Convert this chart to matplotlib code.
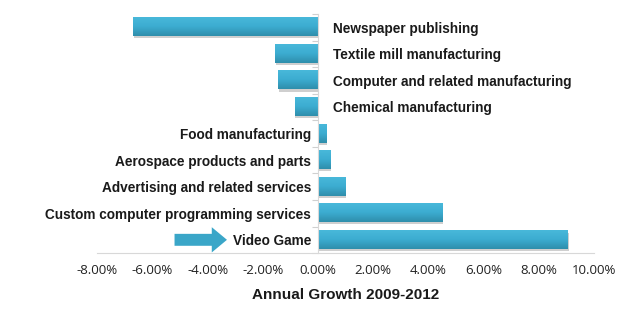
import numpy as np
import matplotlib.pyplot as plt
from matplotlib.patches import FancyArrow
from matplotlib.colors import LinearSegmentedColormap

#===========================================
# Data (annual growth, percent)
industries = ["Newspaper publishing",
              "Textile mill manufacturing",
              "Computer and related manufacturing",
              "Chemical manufacturing",
              "Food manufacturing",
              "Aerospace products and parts",
              "Advertising and related services",
              "Custom computer programming services",
              "Video Game"]
growth = [-6.7, -1.55, -1.45, -0.85, 0.3, 0.45, 1.0, 4.5, 9.05]
xticks = [-8, -6, -4, -2, 0, 2, 4, 6, 8, 10]

#===========================================
fig = plt.figure(figsize=(6.4, 3.27), dpi=100)
ax = fig.add_axes([0.152, 0.226, 0.776, 0.731])

bar_h = 0.68
grad = LinearSegmentedColormap.from_list("bar", ["#2f8eab", "#3cacd0", "#48b8da"])
ypos = np.arange(len(industries))[::-1]

for y, v, name in zip(ypos, growth, industries):
    x0, x1 = min(0, v), max(0, v)
    # soft shadow under each bar
    ax.add_patch(plt.Rectangle((x0 + 0.03, y - bar_h / 2 - 0.08), x1 - x0, bar_h,
                               color="#cfcfcf", lw=0, zorder=1))
    img = np.linspace(0, 1, 50).reshape(-1, 1)
    ax.imshow(img, cmap=grad, aspect="auto", origin="lower",
              extent=(x0, x1, y - bar_h / 2, y + bar_h / 2), zorder=2)
    if v < 0:
        ax.annotate(name, xy=(0, y), xytext=(11, -1),
                    textcoords="offset points", ha="left", va="center",
                    fontsize=9.8, fontweight="bold", family="Liberation Sans", color="#1a1a1a")
    else:
        ax.annotate(name, xy=(0, y), xytext=(-5, -1),
                    textcoords="offset points", ha="right", va="center",
                    fontsize=9.8, fontweight="bold", family="Liberation Sans", color="#1a1a1a")

# arrow pointing at Video Game
ax.add_patch(FancyArrow(-5.2, 0, 1.35, 0, width=0.45, head_width=0.95, head_length=0.55,
                        length_includes_head=False, color="#3aa6c8", lw=0, zorder=3))

ax.set_xlim(-8, 10)
ax.set_ylim(-0.5, len(industries) - 0.5)
ax.set_xticks(xticks)
ax.set_xticklabels(["%.2f%%" % t for t in xticks], family="Open Sans", fontsize=9.5, color="#222222")
ax.tick_params(axis="x", length=0, pad=8)
ax.set_yticks(np.arange(len(industries) + 1) - 0.5)
ax.set_yticklabels([])
ax.tick_params(axis="y", length=4, color="#d0d0d0", direction="out")

for s in ["top", "right"]:
    ax.spines[s].set_visible(False)
ax.spines["left"].set_position(("data", 0))
ax.spines["left"].set_color("#d8d8d8")
ax.spines["bottom"].set_color("#d8d8d8")
ax.set_xlabel("Annual Growth 2009-2012", fontsize=11, fontweight="bold",
              family="Liberation Sans", color="#1a1a1a", labelpad=8)

fig.savefig("out.png", dpi=100)
